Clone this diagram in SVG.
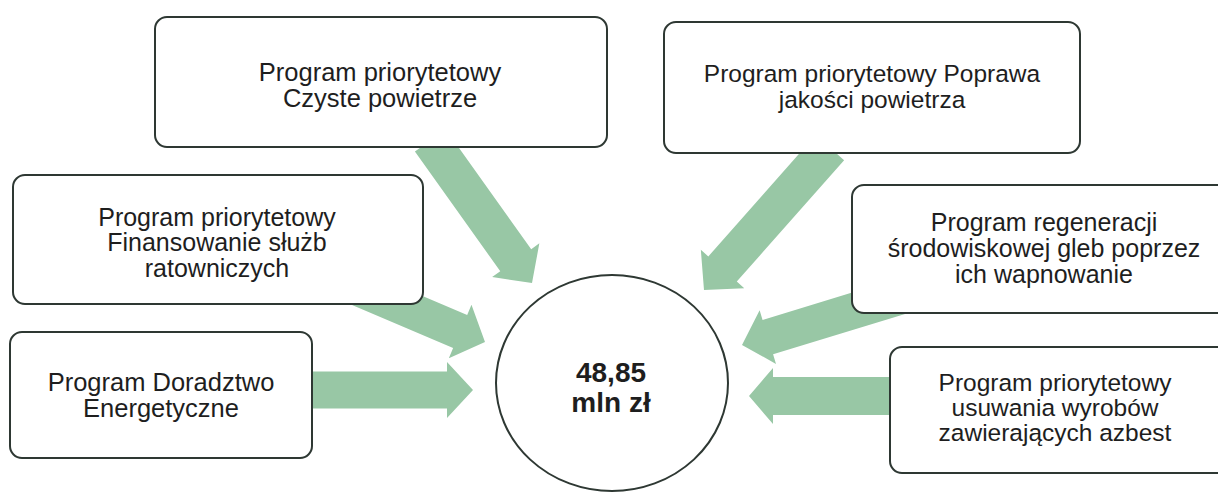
<svg xmlns="http://www.w3.org/2000/svg" width="1218" height="498" viewBox="0 0 1218 498">
<style>
.box{fill:#ffffff;stroke:#2e3833;stroke-width:2}
.arrow{fill:#98c7a5}
.t{font-family:"Liberation Sans",Arial,sans-serif;fill:#1e1e1e;text-anchor:middle}
.b{font-weight:bold}
</style>
<rect width="1218" height="498" fill="#ffffff"/>
<g id="connectors">
<path class="arrow" transform="translate(532,283) rotate(54.5)" d="M-175,-19 L-28,-19 L-28,-29 L0,0 L-28,29 L-28,19 L-175,19 Z"/>
<path class="arrow" transform="translate(704,290) rotate(131.5)" d="M-190,-19 L-28,-19 L-28,-29 L0,0 L-28,29 L-28,19 L-190,19 Z"/>
<path class="arrow" transform="translate(485,342) rotate(23)" d="M-140,-18 L-27,-18 L-27,-29 L0,0 L-27,29 L-27,18 L-140,18 Z"/>
<path class="arrow" transform="translate(742,345) rotate(163)" d="M-165,-18 L-27,-18 L-27,-28 L0,0 L-27,28 L-27,18 L-165,18 Z"/>
<path class="arrow" transform="translate(473,390)" d="M-165,-18.5 L-26,-18.5 L-26,-28 L0,0 L-26,28 L-26,18.5 L-165,18.5 Z"/>
<path class="arrow" transform="translate(749,396) rotate(180)" d="M-150,-19 L-24,-19 L-24,-28 L0,0 L-24,28 L-24,19 L-150,19 Z"/>
</g>
<g id="node-czyste">
<rect class="box" x="155" y="17" width="452" height="130" rx="12"/>
<text class="t" font-size="25.5" x="380" y="81">Program priorytetowy</text>
<text class="t" font-size="25.5" x="380" y="107">Czyste powietrze</text>
</g>
<g id="node-poprawa">
<rect class="box" x="664" y="22" width="416" height="131" rx="12"/>
<text class="t" font-size="24.5" x="872" y="82">Program priorytetowy Poprawa</text>
<text class="t" font-size="24.5" x="872" y="108">jakości powietrza</text>
</g>
<g id="node-sluzby">
<rect class="box" x="13" y="175" width="410" height="129" rx="12"/>
<text class="t" font-size="25" x="217" y="225.5">Program priorytetowy</text>
<text class="t" font-size="25" x="217" y="251">Finansowanie służb</text>
<text class="t" font-size="25" x="217" y="276.5">ratowniczych</text>
</g>
<g id="node-gleby">
<rect class="box" x="852" y="185" width="390" height="128" rx="12"/>
<text class="t" font-size="25" x="1044" y="231">Program regeneracji</text>
<text class="t" font-size="25" x="1044" y="257">środowiskowej gleb poprzez</text>
<text class="t" font-size="25" x="1044" y="283">ich wapnowanie</text>
</g>
<g id="node-doradztwo">
<rect class="box" x="10" y="332" width="302" height="126" rx="12"/>
<text class="t" font-size="25.5" x="161" y="391">Program Doradztwo</text>
<text class="t" font-size="25.5" x="161" y="417">Energetyczne</text>
</g>
<g id="node-azbest">
<rect class="box" x="890" y="347" width="345" height="126" rx="12"/>
<text class="t" font-size="24.5" x="1055" y="391">Program priorytetowy</text>
<text class="t" font-size="24.5" x="1055" y="416">usuwania wyrobów</text>
<text class="t" font-size="24.5" x="1055" y="441">zawierających azbest</text>
</g>
<g id="node-center">
<ellipse class="box" cx="612" cy="383" rx="116" ry="108"/>
<text class="t b" font-size="28" x="611" y="382">48,85</text>
<text class="t b" font-size="28" x="611" y="412">mln zł</text>
</g>
</svg>
